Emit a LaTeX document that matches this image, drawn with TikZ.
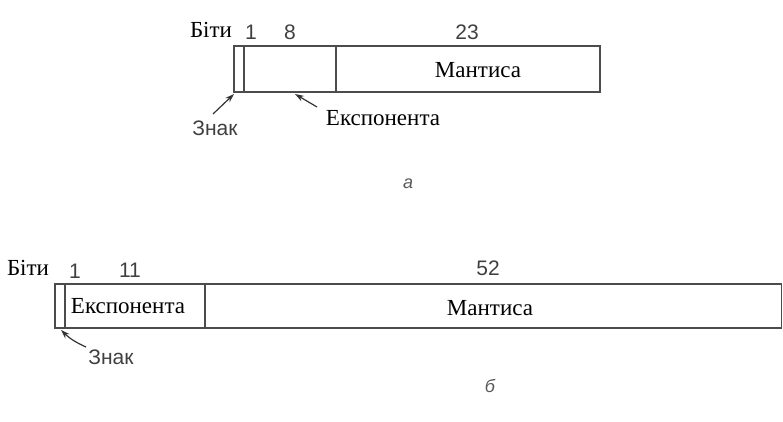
\documentclass[tikz,border=0pt]{standalone}
\usepackage{fontspec}
\setmainfont{Liberation Serif}
\setsansfont{Liberation Sans}
\usetikzlibrary{arrows.meta}
\begin{document}
\begin{tikzpicture}[x=1pt,y=-1pt,
  field/.style={draw=black!70,line width=1.4pt},
  serlabel/.style={font=\fontsize{23}{24}\selectfont,text=black,inner sep=0pt},
  sanlabel/.style={font=\sffamily\fontsize{21}{22}\selectfont,text=black!75,inner sep=0pt},
  caption/.style={font=\sffamily\itshape\fontsize{18}{20}\selectfont,text=black!65,inner sep=0pt},
  pointer/.style={draw=black!80,line width=1.2pt,-{Stealth[length=9pt,width=6pt]}}]
\useasboundingbox (0,0) rectangle (783,422);

% single precision layout
\draw[field] (234,46) rectangle (600,92);
\draw[field] (244,46) -- (244,92);
\draw[field] (336,46) -- (336,92);
\node[serlabel] (bitsA) at (211,30) {Біти};
\node[sanlabel] (n1A) at (251,32) {1};
\node[sanlabel] (n8A) at (290,32) {8};
\node[sanlabel] (n23A) at (467,32) {23};
\node[serlabel] (mantA) at (478,70) {Мантиса};
\node[sanlabel] (signA) at (215,128) {Знак};
\node[serlabel] (expA) at (383,118) {Експонента};
\node[caption] (capA) at (408,184) {а};
\coordinate (signTipA) at (234,94);
\coordinate (expTipA) at (295,94);
\draw[pointer] (213,114) -- (signTipA);
\draw[pointer] (317,107) -- (expTipA);

% double precision layout
\draw[field] (55,284) rectangle (781.5,328);
\draw[field] (65,284) -- (65,328);
\draw[field] (205,284) -- (205,328);
\node[serlabel] (bitsB) at (28,268) {Біти};
\node[sanlabel] (n1B) at (75,271) {1};
\node[sanlabel] (n11B) at (130,270) {11};
\node[sanlabel] (n52B) at (488,268) {52};
\node[serlabel] (expB) at (128,306) {Експонента};
\node[serlabel] (mantB) at (490,308) {Мантиса};
\node[sanlabel] (signB) at (111,357) {Знак};
\node[caption] (capB) at (490,386) {б};
\coordinate (signTipB) at (61,330);
\draw[pointer] (86,347) to[bend left=10] (signTipB);
\end{tikzpicture}
\end{document}
